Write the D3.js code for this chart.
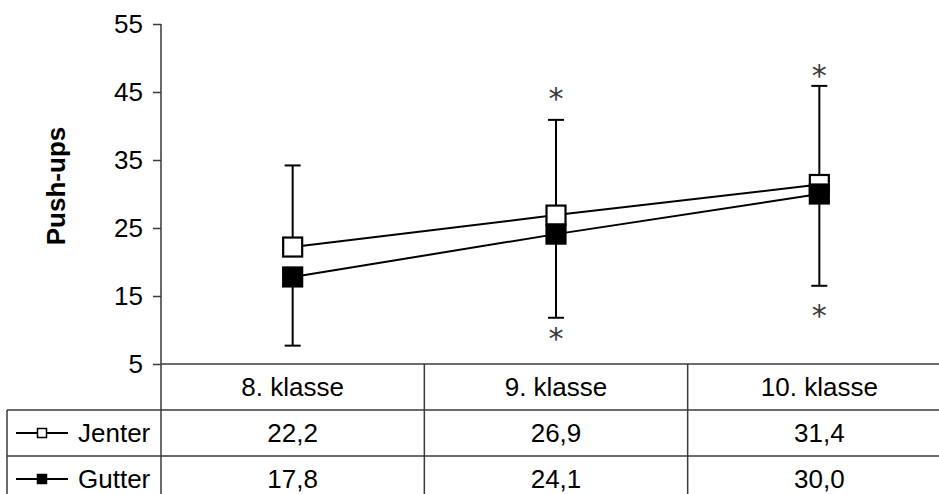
<!DOCTYPE html>
<html>
<head>
<meta charset="utf-8">
<script src="https://cdn.jsdelivr.net/npm/d3@7"></script>
<style>
  body { margin: 0; background: #fff; }
  svg { display: block; font-family: "Liberation Sans", Arial, sans-serif; }
</style>
</head>
<body>
<svg id="dessin" width="939" height="494"></svg>
<script>
// data
let klasser = ["8. klasse", "9. klasse", "10. klasse"];
let jenter = [22.2, 26.9, 31.4];
let gutter = [17.8, 24.1, 30.0];
let jenterTopp = [34.2, 40.9, 45.9];   // upper end of error bar (Jenter)
let gutterBunn = [7.7, 11.8, 16.5];    // lower end of error bar (Gutter)
let stjerneTopp = [null, 44.6, 48.0];  // asterisks above
let stjerneBunn = [null, 9.3, 12.7];   // asterisks below
let yTicks = [5, 15, 25, 35, 45, 55];
let serier = [
  { navn: "Jenter", verdier: jenter, fyll: "#fff" },
  { navn: "Gutter", verdier: gutter, fyll: "#000" }
];

const svg = d3.select("#dessin");
const venstre = 161, hoyre = 951, topp = 24, bunn = 364;
const radH = 46, legendVenstre = 7;
const linjeFarge = "#3a3a3a";

const x = d3.scaleBand().domain(klasser).range([venstre, hoyre]);
const y = d3.scaleLinear().domain([5, 55]).range([bunn, topp]);
const cx = d => x(d) + x.bandwidth() / 2;

// y axis
const axeY = svg.append("g")
    .attr("transform", `translate(${venstre},0)`)
    .call(d3.axisLeft(y).tickValues(yTicks).tickSize(8).tickPadding(10).tickSizeOuter(0));
axeY.selectAll("text").style("font-size", "26px").attr("fill", "#000");
axeY.selectAll("line").attr("stroke", linjeFarge).attr("stroke-width", 1.5);
axeY.select(".domain").remove();

svg.append("text")
    .attr("transform", "translate(56,186) rotate(-90)")
    .attr("text-anchor", "middle")
    .attr("dy", "0.35em")
    .style("font-size", "26px")
    .style("font-weight", "bold")
    .text("Push-ups");

// table grid
const grid = svg.append("g").attr("stroke", linjeFarge).attr("stroke-width", 1.5);
grid.append("line").attr("x1", venstre).attr("x2", venstre).attr("y1", topp).attr("y2", 494);
grid.append("line").attr("x1", venstre).attr("x2", hoyre).attr("y1", bunn).attr("y2", bunn);
[1, 2].forEach(r => {
  grid.append("line").attr("x1", legendVenstre).attr("x2", hoyre)
      .attr("y1", bunn + r * radH).attr("y2", bunn + r * radH);
});
grid.append("line").attr("x1", legendVenstre).attr("x2", legendVenstre)
    .attr("y1", bunn + radH).attr("y2", 494);
klasser.slice(1).forEach(k => {
  grid.append("line").attr("x1", x(k)).attr("x2", x(k)).attr("y1", bunn).attr("y2", 494);
});

// header row
svg.selectAll(".hode")
    .data(klasser)
    .enter()
    .append("text")
    .attr("class", "hode")
    .attr("x", cx)
    .attr("y", bunn + radH / 2)
    .attr("dy", "0.36em")
    .attr("text-anchor", "middle")
    .style("font-size", "26px")
    .text(d => d);

// value rows with legend
serier.forEach((s, r) => {
  const rad = bunn + radH * (r + 1) + radH / 2;
  const g = svg.append("g");
  g.append("line").attr("x1", 16).attr("x2", 68).attr("y1", rad).attr("y2", rad)
      .attr("stroke", "#000").attr("stroke-width", 2);
  g.append("rect").attr("x", 42 - 4.5).attr("y", rad - 4.5).attr("width", 9).attr("height", 9)
      .attr("fill", s.fyll).attr("stroke", "#000").attr("stroke-width", 1.5);
  g.append("text").attr("x", 78).attr("y", rad).attr("dy", "0.36em")
      .style("font-size", "26px").text(s.navn);
  g.selectAll(".verdi")
      .data(s.verdier)
      .enter()
      .append("text")
      .attr("x", (d, i) => cx(klasser[i]))
      .attr("y", rad)
      .attr("dy", "0.36em")
      .attr("text-anchor", "middle")
      .style("font-size", "26px")
      .text(d => d3.format(".1f")(d).replace(".", ","));
});

// error bars
const feil = svg.append("g").attr("stroke", "#000").attr("stroke-width", 2);
klasser.forEach((k, i) => {
  [[jenter[i], jenterTopp[i]], [gutter[i], gutterBunn[i]]].forEach(([m, e]) => {
    feil.append("line").attr("x1", cx(k)).attr("x2", cx(k)).attr("y1", y(m)).attr("y2", y(e));
    feil.append("line").attr("x1", cx(k) - 8).attr("x2", cx(k) + 8).attr("y1", y(e)).attr("y2", y(e));
  });
});

// asterisks
[stjerneTopp, stjerneBunn].forEach(arr => {
  const punkter = arr.map((v, i) => ({ k: klasser[i], v: v })).filter(d => d.v !== null);
  svg.append("g").selectAll("text")
      .data(punkter)
      .enter()
      .append("text")
      .attr("x", d => cx(d.k))
      .attr("y", d => y(d.v))
      .attr("dy", "0.49em")
      .attr("text-anchor", "middle")
      .style("font-family", "'DejaVu Sans'")
      .style("font-size", "30px")
      .attr("fill", "#3a3a3a")
      .text("*");
});

// lines and markers
const linje = d3.line().x((d, i) => cx(klasser[i])).y(d => y(d));
serier.forEach(s => {
  svg.append("path").attr("d", linje(s.verdier))
      .attr("fill", "none").attr("stroke", "#000").attr("stroke-width", 2);
});
serier.forEach(s => {
  svg.append("g").selectAll("rect")
      .data(s.verdier)
      .enter()
      .append("rect")
      .attr("x", (d, i) => cx(klasser[i]) - 9.5)
      .attr("y", d => y(d) - 9.5)
      .attr("width", 19)
      .attr("height", 19)
      .attr("fill", s.fyll)
      .attr("stroke", "#000")
      .attr("stroke-width", 2.2);
});
</script>
</body>
</html>
